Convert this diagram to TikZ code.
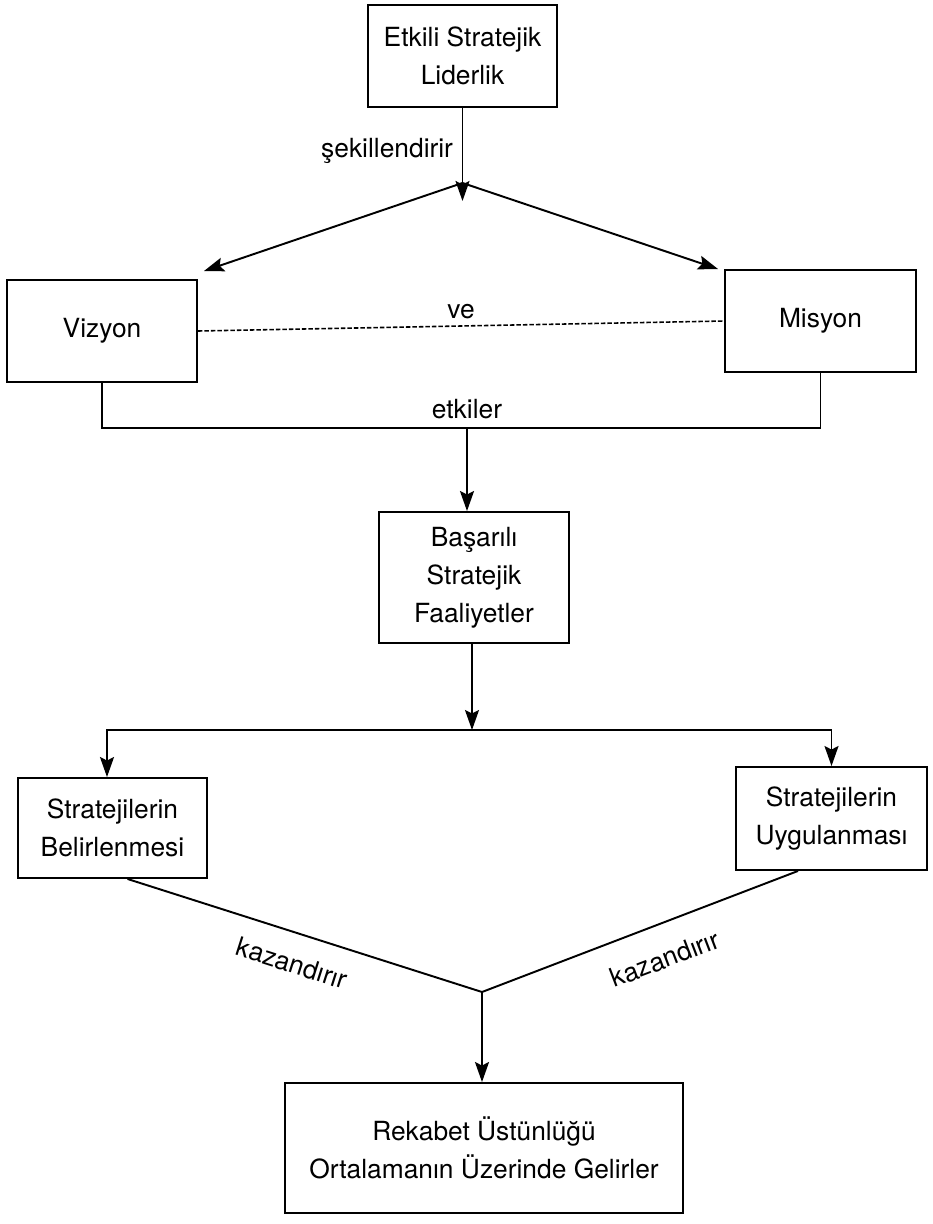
\documentclass[tikz,border=0pt]{standalone}
\usepackage{fontspec}
\setmainfont{TeX Gyre Heros}
\usetikzlibrary{positioning,arrows.meta,calc}

\begin{document}
\begin{tikzpicture}[
    font=\fontsize{15pt}{21.6pt}\selectfont,
    >={Stealth[length=4mm,width=2.8mm,inset=0.7mm]},
    kutu/.style   ={draw, line width=1.1pt, align=center, inner sep=2pt,
                    minimum width=38mm, minimum height=20.4mm},
    flow/.style   ={->, line width=1.1pt},
    hat/.style    ={line width=1.1pt},
    kesik/.style  ={line width=0.9pt, dash pattern=on 0.9mm off 0.4mm},
    etiket/.style ={inner sep=2pt},
]

% page frame (reference proportions)
\useasboundingbox (0,0) rectangle (186.4mm,-244.8mm);

% ============================================================
% BOXES
% ============================================================
\node[kutu, minimum width=37.8mm] (lider) at (92.5mm,-11.2mm)
    {Etkili Stratejik\\Liderlik};
\node[kutu] (vizyon) at (20.4mm,-66.2mm) {Vizyon};
\node[kutu, minimum width=38.2mm] (misyon) at (164.1mm,-64.2mm) {Misyon};
\node[kutu, minimum height=26.2mm] (basarili) at (94.8mm,-115.5mm)
    {Başarılı\\Stratejik\\Faaliyetler};
\node[kutu, minimum width=37.8mm, minimum height=20mm] (belirle) at (22.5mm,-165.6mm)
    {Stratejilerin\\Belirlenmesi};
\node[kutu, minimum width=38.2mm, minimum height=20.6mm] (uygula) at (166.3mm,-163.7mm)
    {Stratejilerin\\Uygulanması};
\node[kutu, minimum width=79.6mm, minimum height=26mm] (rekabet) at (96.8mm,-229.6mm)
    {Rekabet Üstünlüğü\\Ortalamanın Üzerinde Gelirler};

% branch points
\coordinate[below=15mm of lider.south]   (fork);
\coordinate[below=18.6mm of lider.south] (forktip);
\coordinate (join)     at (93.4mm,-85.6mm);
\coordinate (dal)      at (94.4mm,-146mm);
\coordinate (birlesim) at (96.4mm,-198.4mm);

% ============================================================
% CONNECTORS
% ============================================================
\draw[flow] (lider.south) -- (forktip)
    node[etiket, pos=0.46, left=1mm] (sekil) {şekillendirir};
\draw[flow] (fork) -- ([shift={(1.2mm,1.6mm)}]vizyon.north east);
\draw[flow] (fork) -- ([xshift=-1.2mm]misyon.north west);

\draw[kesik] (vizyon.east) -- (misyon.west)
    node[etiket, midway, above=0.6mm] (ve) {ve};

\draw[hat] (vizyon.south) |- (join) -| (misyon.south);
\node[etiket, above=1mm of join] (etkiler) {etkiler};
\draw[flow] (join) -- (join |- basarili.north);

\draw[flow] (dal |- basarili.south) -- (dal);
\draw[flow] (dal) -| ([xshift=-1.1mm]belirle.north);
\draw[flow] (dal) -| (uygula.north);

\draw[hat] ([xshift=3mm]belirle.south) -- (birlesim)
    node[etiket, pos=0.49, below=3.2mm, sloped] (kaz1) {kazandırır};
\draw[hat] (birlesim) -- ([xshift=-6.7mm]uygula.south)
    node[etiket, pos=0.54, below=4mm, sloped] (kaz2) {kazandırır};
\draw[flow] (birlesim) -- (birlesim |- rekabet.north);

\end{tikzpicture}
\end{document}
